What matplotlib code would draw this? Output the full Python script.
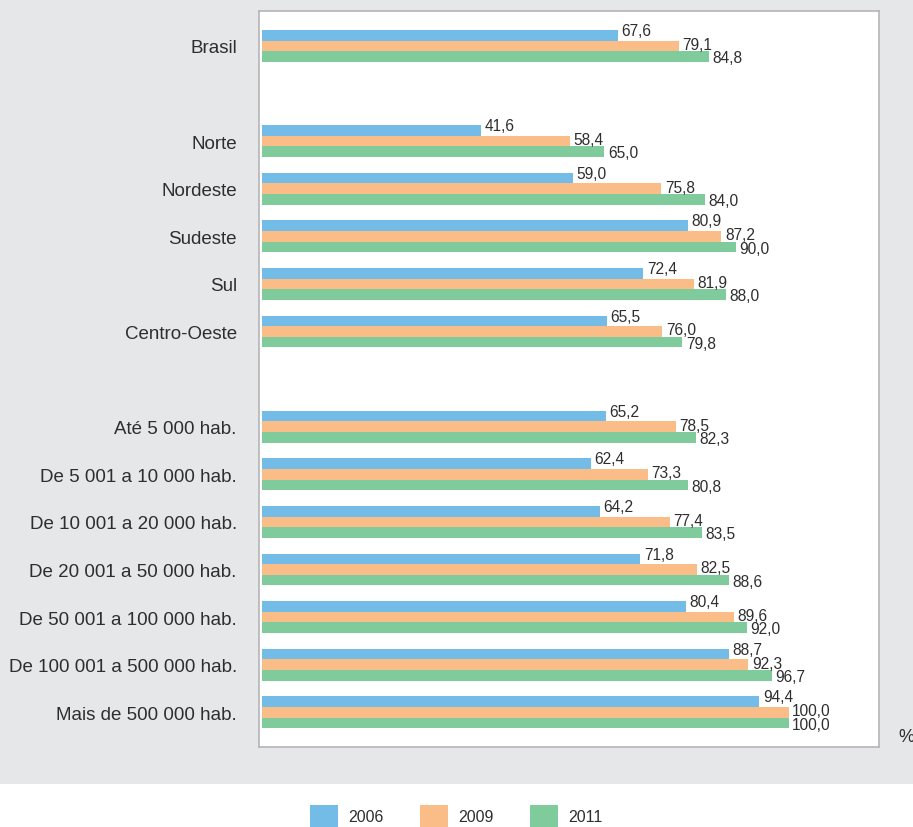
import matplotlib
matplotlib.use("Agg")
import matplotlib.pyplot as plt
from matplotlib.patches import Rectangle

categories = ["Brasil", "Norte", "Nordeste", "Sudeste", "Sul", "Centro-Oeste",
              "Até 5 000 hab.", "De 5 001 a 10 000 hab.", "De 10 001 a 20 000 hab.",
              "De 20 001 a 50 000 hab.", "De 50 001 a 100 000 hab.",
              "De 100 001 a 500 000 hab.", "Mais de 500 000 hab."]
slots = [0, 2, 3, 4, 5, 6, 8, 9, 10, 11, 12, 13, 14]
years = ["2006", "2009", "2011"]
v2006 = [67.6, 41.6, 59.0, 80.9, 72.4, 65.5, 65.2, 62.4, 64.2, 71.8, 80.4, 88.7, 94.4]
v2009 = [79.1, 58.4, 75.8, 87.2, 81.9, 76.0, 78.5, 73.3, 77.4, 82.5, 89.6, 92.3, 100.0]
v2011 = [84.8, 65.0, 84.0, 90.0, 88.0, 79.8, 82.3, 80.8, 83.5, 88.6, 92.0, 96.7, 100.0]
colors = ["#73bce8", "#fbbd87", "#80cb9b"]

plt.rcParams['font.family'] = ['Liberation Sans', 'DejaVu Sans']

W, H = 913, 828
fig = plt.figure(figsize=(W / 100, H / 100), dpi=100, facecolor="white")
bg = Rectangle((0, (H - 785) / H), 1, 785 / H, transform=fig.transFigure,
               facecolor="#e6e7e9", edgecolor="none", zorder=-10)
fig.patches.append(bg)

ax = fig.add_axes([259 / W, (H - 748) / H, (879 - 259) / W, (748 - 12) / H])
ax.set_zorder(1)
ax.set_facecolor("white")
for s in ax.spines.values():
    s.set_color("#b5b5b7")
    s.set_linewidth(1.2)

bh = 0.222
series = [v2006, v2009, v2011]
offsets = [-bh, 0, bh]
text_shift = [4.6, 2.2, 0.2]
for vals, col, off, ts in zip(series, colors, offsets, text_shift):
    ys = [s + off for s in slots]
    ax.barh(ys, vals, height=bh, color=col, edgecolor="none")
    for y, v in zip(ys, vals):
        ax.annotate(f"{v:.1f}".replace(".", ","), (v, y), xytext=(2.5, ts),
                    textcoords="offset points", va="center_baseline", ha="left",
                    fontsize=11.2, color="#2e2e2e")

ax.set_xlim(-0.57, 117.1)
ax.set_ylim(14.73, -0.735)
ax.set_xticks([])
ax.set_yticks(slots)
ax.set_yticklabels(categories, fontsize=13.5, color="#2e2e2e")
ax.tick_params(axis="y", length=0, pad=16)

fig.text(898 / W, 1 - 738 / H, "%", fontsize=13, color="#2e2e2e", va="center", ha="left")

# legend
lx = [310, 420, 530]
for x, col, yr in zip(lx, colors, years):
    fig.patches.append(Rectangle((x / W, (H - 828) / H), 28 / W, 22 / H,
                                 transform=fig.transFigure, facecolor=col,
                                 edgecolor="none"))
    fig.text((x + 38) / W, 1 - 818 / H, yr, fontsize=11.5, color="#2e2e2e",
             va="center", ha="left")

fig.savefig("out.png", dpi=100, facecolor="white")
